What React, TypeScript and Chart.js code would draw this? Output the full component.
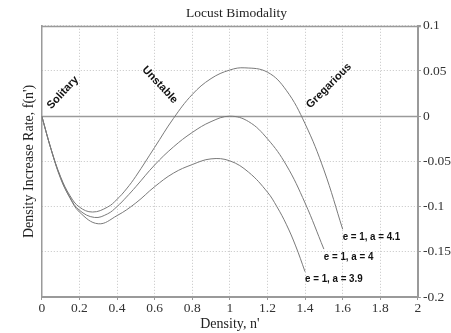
import React, { useEffect, useRef } from 'react';
import { Chart, registerables } from 'chart.js';

Chart.register(...registerables);

// Curve e = 1, a = 4.1
const xA41 = [0, 0.05, 0.1, 0.15, 0.2, 0.27, 0.35, 0.4, 0.45, 0.5, 0.6, 0.7, 0.8, 0.9, 1.0, 1.08, 1.2, 1.3, 1.4, 1.5, 1.6];
const yA41 = [0, -0.037, -0.067, -0.088, -0.1005, -0.106, -0.1005, -0.092, -0.0805, -0.0665, -0.0345, -0.0025, 0.024, 0.0416, 0.0511, 0.0535, 0.0487, 0.0287, -0.0083, -0.0593, -0.125];

// Curve e = 1, a = 4
const xA40 = [0, 0.05, 0.1, 0.15, 0.2, 0.28, 0.35, 0.4, 0.45, 0.5, 0.6, 0.7, 0.8, 0.9, 1.0, 1.1, 1.2, 1.3, 1.4, 1.5];
const yA40 = [0, -0.037, -0.068, -0.090, -0.104, -0.112, -0.108, -0.100, -0.0895, -0.078, -0.054, -0.034, -0.018, -0.006, 0, -0.006, -0.025, -0.054, -0.096, -0.147];

// Curve e = 1, a = 3.9
const xA39 = [0, 0.05, 0.1, 0.15, 0.2, 0.3, 0.4, 0.5, 0.6, 0.7, 0.8, 0.9, 1.0, 1.1, 1.2, 1.25, 1.3, 1.35, 1.4];
const yA39 = [0, -0.037, -0.069, -0.0905, -0.106, -0.119, -0.110, -0.096, -0.078, -0.063, -0.0535, -0.0472, -0.0494, -0.062, -0.084, -0.100, -0.1195, -0.1435, -0.172];

const seriesLabels = ['e = 1, a = 4.1', 'e = 1, a = 4', 'e = 1, a = 3.9'];

const xTickLabels = ['0', '0.2', '0.4', '0.6', '0.8', '1', '1.2', '1.4', '1.6', '1.8', '2'];
const yTickLabels = ['-0.2', '-0.15', '-0.1', '-0.05', '0', '0.05', '0.1'];

const regionNames = ['Solitary', 'Unstable', 'Gregarious'];
const regionX = [0.112, 0.628, 1.527];
const regionY = [0.026, 0.0347, 0.0336];
const regionAngleDeg = [-47, 47, -45];

const SERIF = '"Liberation Serif", "Times New Roman", serif';
const SANS = '"Liberation Sans", Arial, sans-serif';

const toPoints = (xs: number[], ys: number[]) => xs.map((x, i) => ({ x, y: ys[i] }));

const annotPlugin = {
  id: 'annot',
  beforeDatasetsDraw(chart: any) {
    const { ctx, chartArea, scales } = chart;
    const y = scales.y;
    ctx.save();
    ctx.strokeStyle = '#9a9a9a';
    ctx.lineWidth = 1.5;
    const y0 = Math.round(y.getPixelForValue(0)) + 0.5;
    ctx.beginPath();
    ctx.moveTo(chartArea.left, y0);
    ctx.lineTo(chartArea.right, y0);
    ctx.stroke();
    const yt = Math.round(y.getPixelForValue(0.1)) + 0.5;
    ctx.beginPath();
    ctx.moveTo(chartArea.left, yt);
    ctx.lineTo(chartArea.right + 3, yt);
    ctx.stroke();
    ctx.restore();
  },
  afterDatasetsDraw(chart: any) {
    const { ctx, scales } = chart;
    const x = scales.x;
    const y = scales.y;
    ctx.save();
    ctx.fillStyle = '#111';
    ctx.font = 'bold 11px ' + SANS;
    ctx.textAlign = 'center';
    ctx.textBaseline = 'middle';
    regionNames.forEach((name, i) => {
      ctx.save();
      ctx.translate(x.getPixelForValue(regionX[i]), y.getPixelForValue(regionY[i]));
      ctx.rotate((regionAngleDeg[i] * Math.PI) / 180);
      ctx.fillText(name, 0, 0);
      ctx.restore();
    });
    ctx.textAlign = 'left';
    ctx.font = 'bold 11.5px ' + SANS;
    chart.data.datasets.forEach((ds: any, i: number) => {
      const last = ds.data[ds.data.length - 1];
      const px = x.getPixelForValue(last.x);
      const py = y.getPixelForValue(last.y);
      ctx.save();
      ctx.translate(px, py + 7.5);
      ctx.scale(0.85, 1);
      ctx.fillText(seriesLabels[i], 0, 0);
      ctx.restore();
    });
    ctx.restore();
  },
};

export default function App() {
  const ref = useRef<HTMLCanvasElement | null>(null);

  useEffect(() => {
    if (!ref.current) return;
    const lineStyle = {
      borderColor: '#7a7a7a',
      borderWidth: 1,
      pointRadius: 0,
      fill: false,
      tension: 0.4,
    };
    const chart = new Chart(ref.current, {
      type: 'line',
      data: {
        datasets: [
          { label: seriesLabels[0], data: toPoints(xA41, yA41), ...lineStyle },
          { label: seriesLabels[1], data: toPoints(xA40, yA40), ...lineStyle },
          { label: seriesLabels[2], data: toPoints(xA39, yA39), ...lineStyle },
        ],
      },
      options: {
        animation: false,
        responsive: true,
        maintainAspectRatio: false,
        layout: { padding: { left: 20, right: -2, top: 0, bottom: 0 } },
        plugins: {
          legend: { display: false },
          tooltip: { enabled: false },
          title: {
            display: true,
            text: 'Locust Bimodality',
            color: '#222',
            font: { family: SERIF, size: 13.5, weight: 'normal' },
            padding: { top: 5, bottom: 4.6 },
          },
        },
        scales: {
          x: {
            type: 'linear',
            position: 'bottom',
            min: 0,
            max: 2,
            ticks: {
              stepSize: 0.2,
              color: '#333',
              padding: 0,
              maxRotation: 0,
              font: { family: SERIF, size: 13.5 },
              callback: (_v: any, i: number) => xTickLabels[i],
            },
            grid: { color: '#c4c4c4', lineWidth: 1, tickLength: 3, tickColor: '#9a9a9a' },
            border: { display: true, color: '#9a9a9a', width: 2, dash: [1, 2] },
            title: {
              display: true,
              text: "Density, n'",
              color: '#222',
              font: { family: SERIF, size: 14 },
              padding: { top: 0, bottom: 0 },
            },
          },
          y: {
            type: 'linear',
            position: 'right',
            min: -0.2,
            max: 0.1,
            ticks: {
              stepSize: 0.05,
              color: '#333',
              padding: 2,
              font: { family: SERIF, size: 13.5 },
              callback: (_v: any, i: number) => yTickLabels[i],
            },
            grid: { color: '#c4c4c4', lineWidth: 1, tickLength: 3, tickColor: '#9a9a9a' },
            border: { display: true, color: '#9a9a9a', width: 2, dash: [1, 2] },
          },
          yl: {
            type: 'linear',
            position: 'left',
            min: -0.2,
            max: 0.1,
            ticks: { display: false },
            grid: { display: false, drawTicks: false },
            border: { display: true, color: '#9a9a9a', width: 1.5 },
            title: {
              display: true,
              text: "Density Increase Rate, f(n')",
              color: '#222',
              font: { family: SERIF, size: 14 },
              padding: { top: 1, bottom: 4 },
            },
          },
        },
      },
      plugins: [annotPlugin],
    } as any);
    return () => chart.destroy();
  }, []);

  return (
    <div style={{ position: 'absolute', left: 0, top: 0, width: 451, height: 333, background: '#fff' }}>
      <canvas ref={ref} />
    </div>
  );
}
